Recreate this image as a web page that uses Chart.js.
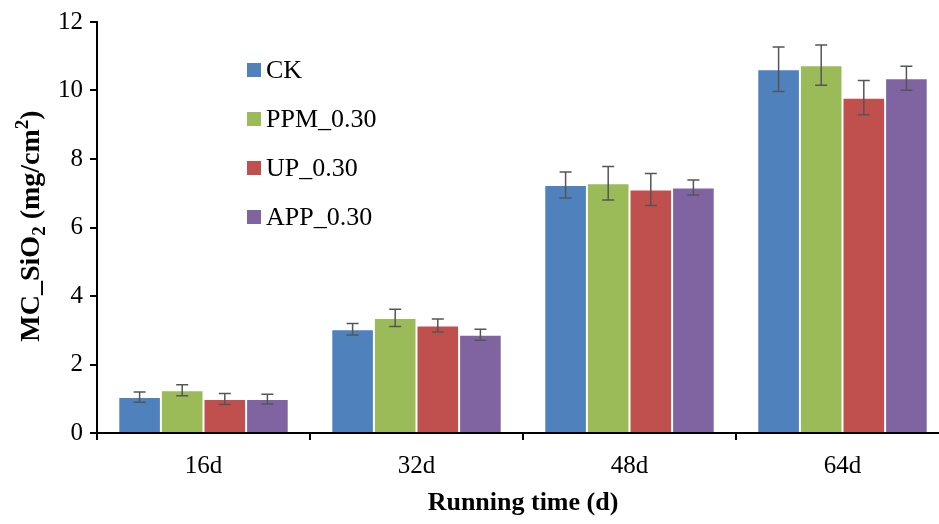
<!DOCTYPE html>
<html lang="en">

<head>
    <meta charset="UTF-8">
    <title>MC_SiO2</title>
    <style>
        body { margin: 0; overflow: hidden; background: #fff; }
        #wrap { width: 939px; height: 524px; overflow: hidden; }
    </style>
</head>

<body>
    <div id="wrap">
        <canvas id="myChart" width="960" height="524"></canvas>
    </div>
    <script src="https://cdn.jsdelivr.net/npm/chart.js"></script>
    <script>
        // 데이터
        const categories = ["16d", "32d", "48d", "64d"];
        const seriesNames = ["CK", "PPM_0.30", "UP_0.30", "APP_0.30"];
        const seriesColors = ["#4F81BD", "#9BBB59", "#C0504D", "#8064A2"];

        const ck = [1.05, 3.03, 7.24, 10.62];
        const ppm = [1.25, 3.36, 7.29, 10.74];
        const up = [0.99, 3.14, 7.11, 9.79];
        const app = [0.99, 2.87, 7.17, 10.36];

        const ckErr = [0.15, 0.17, 0.38, 0.65];
        const ppmErr = [0.16, 0.25, 0.49, 0.59];
        const upErr = [0.16, 0.19, 0.47, 0.50];
        const appErr = [0.14, 0.16, 0.22, 0.35];

        const yTicks = [0, 2, 4, 6, 8, 10, 12];

        const values = [ck, ppm, up, app];
        const errors = [ckErr, ppmErr, upErr, appErr];

        const FONT = "'Liberation Serif', 'Times New Roman', serif";

        // 오차막대
        const errorBars = {
            id: 'errorBars',
            afterDatasetsDraw(chart) {
                const c = chart.ctx;
                const y = chart.scales.y;
                c.save();
                c.strokeStyle = '#555555';
                c.lineWidth = 1.5;
                chart.data.datasets.forEach((ds, i) => {
                    const meta = chart.getDatasetMeta(i);
                    meta.data.forEach((bar, j) => {
                        const v = ds.data[j];
                        const e = errors[i][j];
                        const yt = y.getPixelForValue(v + e);
                        const yb = y.getPixelForValue(v - e);
                        c.beginPath();
                        c.moveTo(bar.x, yt); c.lineTo(bar.x, yb);
                        c.moveTo(bar.x - 6, yt); c.lineTo(bar.x + 6, yt);
                        c.moveTo(bar.x - 6, yb); c.lineTo(bar.x + 6, yb);
                        c.stroke();
                    });
                });
                c.restore();
            }
        };

        // 범례 (그래프 안쪽)
        const innerLegend = {
            id: 'innerLegend',
            afterDraw(chart) {
                const c = chart.ctx;
                c.save();
                c.font = "26px " + FONT;
                c.textBaseline = 'middle';
                chart.data.datasets.forEach((ds, i) => {
                    const cy = 70 + i * 49;
                    c.fillStyle = ds.backgroundColor;
                    c.fillRect(247, cy - 7, 14, 14);
                    c.fillStyle = '#000';
                    c.fillText(ds.label, 266, cy + 1);
                });
                c.restore();
            }
        };

        // y축 제목 (아래첨자/위첨자)
        const yTitle = {
            id: 'yTitle',
            afterDraw(chart) {
                const c = chart.ctx;
                const parts = [
                    { t: "MC_SiO", size: 28, dy: 0 },
                    { t: "2", size: 19, dy: 6 },
                    { t: " (mg/cm", size: 28, dy: 0 },
                    { t: "2", size: 19, dy: -11 },
                    { t: ")", size: 28, dy: 0 }
                ];
                c.save();
                let total = 0;
                parts.forEach(p => {
                    c.font = "bold " + p.size + "px " + FONT;
                    p.w = c.measureText(p.t).width;
                    total += p.w;
                });
                c.translate(29, 226);
                c.rotate(-Math.PI / 2);
                c.fillStyle = '#000';
                c.textBaseline = 'alphabetic';
                let x = -total / 2;
                parts.forEach(p => {
                    c.font = "bold " + p.size + "px " + FONT;
                    c.fillText(p.t, x, 10 + p.dy);
                    x += p.w;
                });
                c.restore();
            }
        };

        const ctx = document.getElementById('myChart');

        const myChart = new Chart(ctx, {
            type: 'bar',
            data: {
                labels: categories,
                datasets: seriesNames.map((name, i) => ({
                    label: name,
                    data: values[i],
                    backgroundColor: seriesColors[i],
                    borderColor: 'rgba(255,255,255,0.45)',
                    borderWidth: 1,
                    categoryPercentage: 0.8,
                    barPercentage: 1.0
                }))
            },
            options: {
                responsive: false,
                devicePixelRatio: 1,
                animation: false,
                layout: { padding: { top: 19, right: 11, left: 0, bottom: 0 } },
                plugins: {
                    legend: { display: false },
                    tooltip: { enabled: false }
                },
                scales: {
                    x: {
                        afterFit(scale) { scale.height = 91; },
                        grid: {
                            drawOnChartArea: false,
                            drawTicks: true,
                            tickLength: 7,
                            color: '#000',
                            lineWidth: 2
                        },
                        border: { color: '#000', width: 2 },
                        ticks: {
                            color: '#000',
                            padding: 11,
                            font: { family: FONT, size: 25 }
                        },
                        title: {
                            display: true,
                            text: 'Running time (d)',
                            color: '#000',
                            padding: { top: 4, bottom: 5 },
                            font: { family: FONT, size: 26, weight: 'bold' }
                        }
                    },
                    y: {
                        min: 0,
                        max: 12,
                        afterFit(scale) { scale.width = 97; },
                        afterBuildTicks(scale) {
                            scale.ticks = yTicks.map(v => ({ value: v }));
                        },
                        grid: {
                            drawOnChartArea: false,
                            drawTicks: true,
                            tickLength: 7,
                            color: '#000',
                            lineWidth: 2
                        },
                        border: { color: '#000', width: 2 },
                        ticks: {
                            color: '#000',
                            padding: 7,
                            font: { family: FONT, size: 25 }
                        }
                    }
                }
            },
            plugins: [errorBars, innerLegend, yTitle]
        });
    </script>

</body>

</html>
